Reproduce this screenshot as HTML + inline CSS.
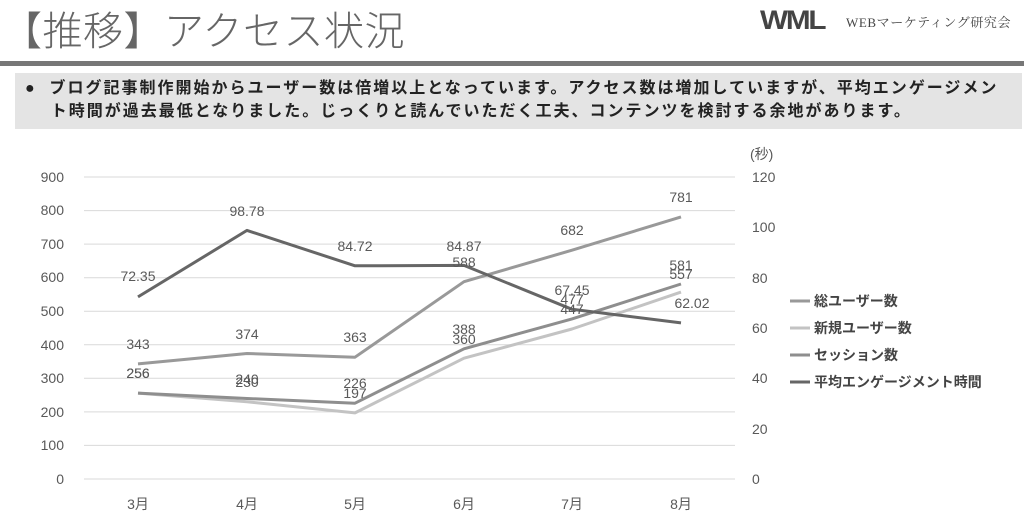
<!DOCTYPE html>
<html><head><meta charset="utf-8"><style>
body{margin:0;width:1024px;height:515px;background:#fff;overflow:hidden;font-family:"Liberation Sans","Noto Sans CJK JP",sans-serif;position:relative}
.t{position:absolute;left:2px;top:-1px;font-size:40px;color:#666;font-weight:300;letter-spacing:0.5px}
.bar{position:absolute;left:0;top:61px;width:1024px;height:5px;background:#777}
.box{position:absolute;left:15px;top:73px;width:1007px;height:56px;background:#e4e4e4}
.box p{margin:0;position:absolute;left:10px;top:4px;font-size:16px;font-weight:bold;color:#222;line-height:23px;width:1000px;letter-spacing:2px;white-space:nowrap}
.logo{position:absolute;left:760px;top:5px;font-size:27px;font-weight:bold;color:#444;letter-spacing:-2px;transform:scaleX(1.1);transform-origin:left}
.logo2{position:absolute;left:846px;top:12px;font-size:13px;color:#444;font-family:"Liberation Serif","Noto Serif CJK SC",serif;letter-spacing:0.6px}
</style></head><body>
<div class="t">【推移】アクセス状況</div>
<div class="logo">WML</div><div class="logo2">WEBマーケティング研究会</div>
<div class="bar"></div>
<div class="box"><p>●&nbsp; ブログ記事制作開始からユーザー数は倍増以上となっています。アクセス数は増加していますが、平均エンゲージメン<br>&nbsp;&nbsp;&nbsp;&nbsp;ト時間が過去最低となりました。じっくりと読んでいただく工夫、コンテンツを検討する余地があります。</p></div>
<svg width="1024" height="515" style="position:absolute;left:0;top:0" font-family="Liberation Sans,Noto Sans CJK JP,sans-serif" font-size="14" fill="#595959">
<g stroke="#d9d9d9" stroke-width="1">
<line x1="84" x2="735" y1="479" y2="479"/><line x1="84" x2="735" y1="445.4" y2="445.4"/><line x1="84" x2="735" y1="411.9" y2="411.9"/><line x1="84" x2="735" y1="378.3" y2="378.3"/><line x1="84" x2="735" y1="344.8" y2="344.8"/><line x1="84" x2="735" y1="311.2" y2="311.2"/><line x1="84" x2="735" y1="277.7" y2="277.7"/><line x1="84" x2="735" y1="244.1" y2="244.1"/><line x1="84" x2="735" y1="210.6" y2="210.6"/><line x1="84" x2="735" y1="177" y2="177"/>
</g>
<g text-anchor="end">
<text x="64" y="484">0</text><text x="64" y="450">100</text><text x="64" y="417">200</text><text x="64" y="383">300</text><text x="64" y="350">400</text><text x="64" y="316">500</text><text x="64" y="282">600</text><text x="64" y="249">700</text><text x="64" y="215">800</text><text x="64" y="182">900</text>
</g>
<g>
<text x="752" y="484">0</text><text x="752" y="434">20</text><text x="752" y="383">40</text><text x="752" y="333">60</text><text x="752" y="283">80</text><text x="752" y="232">100</text><text x="752" y="182">120</text><text x="750" y="159">(秒)</text>
</g>
<g text-anchor="middle">
<text x="138" y="509">3月</text><text x="247" y="509">4月</text><text x="355" y="509">5月</text><text x="464" y="509">6月</text><text x="572" y="509">7月</text><text x="681" y="509">8月</text>
</g>
<g fill="none" stroke-width="3" stroke-linejoin="round">
<polyline stroke="#c3c3c3" points="138,393.1 247,401.8 355,412.9 464,358.2 572,329.0 681,292.1"/>
<polyline stroke="#8e8e8e" points="138,393.1 247,398.5 355,403.2 464,348.8 572,318.9 681,284.0"/>
<polyline stroke="#999" points="138,363.9 247,353.5 355,357.2 464,281.7 572,250.2 681,216.9"/>
<polyline stroke="#666" points="138,296.9 247,230.4 355,265.8 464,265.4 572,309.3 681,322.9"/>
</g>
<g text-anchor="middle" font-size="14">
<text x="138" y="281">72.35</text><text x="247" y="216">98.78</text><text x="355" y="251">84.72</text><text x="464" y="251">84.87</text><text x="572" y="295">67.45</text><text x="692" y="308">62.02</text>
<text x="138" y="349">343</text><text x="247" y="339">374</text><text x="355" y="342">363</text><text x="464" y="267">588</text><text x="572" y="235">682</text><text x="681" y="202">781</text>
<text x="138" y="378">256</text><text x="247" y="384">240</text><text x="355" y="388">226</text><text x="464" y="334">388</text><text x="572" y="304">477</text><text x="681" y="270">581</text>
<text x="138" y="378">256</text><text x="247" y="387">230</text><text x="355" y="398">197</text><text x="464" y="344">360</text><text x="572" y="314">447</text><text x="681" y="279">557</text>
</g>
<g stroke-width="3">
<line x1="790" x2="810" y1="301" y2="301" stroke="#999"/>
<line x1="790" x2="810" y1="328" y2="328" stroke="#c3c3c3"/>
<line x1="790" x2="810" y1="355" y2="355" stroke="#8e8e8e"/>
<line x1="790" x2="810" y1="382" y2="382" stroke="#666"/>
</g>
<g font-size="14" font-weight="bold" fill="#444">
<text x="814" y="306">総ユーザー数</text><text x="814" y="333">新規ユーザー数</text><text x="814" y="360">セッション数</text><text x="814" y="387">平均エンゲージメント時間</text>
</g>
</svg>
</body></html>
